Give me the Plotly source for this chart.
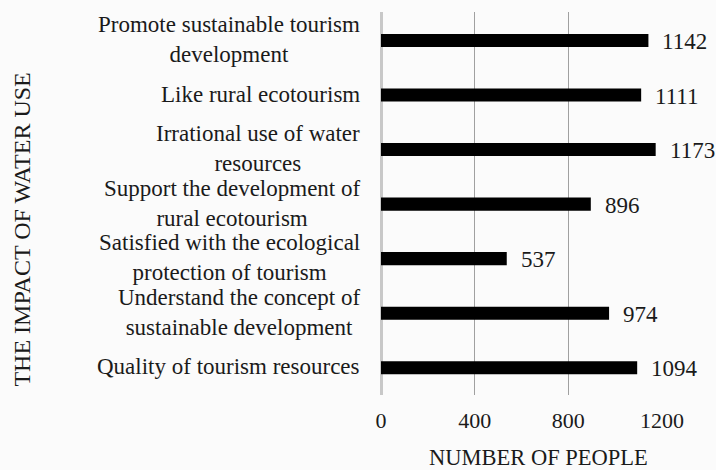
import plotly.graph_objects as go

categories = [
    "Promote sustainable tourism<br>development",
    "Like rural ecotourism",
    "Irrational use of water<br>resources",
    "Support the development of<br>rural ecotourism",
    "Satisfied with the ecological<br>protection of tourism",
    "Understand the concept of<br>sustainable development",
    "Quality of tourism resources",
]
values = [1142, 1111, 1173, 896, 537, 974, 1094]
x_ticks = [0, 400, 800, 1200]

FONT = "Liberation Serif, Times New Roman, serif"
TXT = "#1a1a1a"

fig = go.Figure()
fig.add_trace(go.Bar(
    y=categories, x=values, orientation="h",
    marker=dict(color="#000000", line=dict(width=0)),
    width=0.24,
    cliponaxis=False,
    hoverinfo="skip",
))

annotations = []
for c, v in zip(categories, values):
    annotations.append(dict(
        x=v, y=c, xref="x", yref="y", text=str(v), showarrow=False,
        xanchor="left", yanchor="middle", xshift=12, yshift=-1,
        font=dict(family=FONT, size=23, color=TXT),
    ))
    annotations.append(dict(
        x=0, y=c, xref="paper", yref="y", text=c, showarrow=False,
        xanchor="right", yanchor="middle", align="center", xshift=-19, yshift=1,
        font=dict(family=FONT, size=23, color=TXT),
    ))

# axis titles
annotations.append(dict(
    x=0, y=0.432, xref="paper", yref="paper", xshift=-359,
    text="THE IMPACT OF WATER USE", textangle=-90, showarrow=False,
    xanchor="center", yanchor="middle",
    font=dict(family=FONT, size=24, color=TXT),
))
annotations.append(dict(
    x=0.562, y=0, xref="paper", yref="paper", yshift=-62,
    text="NUMBER OF PEOPLE", showarrow=False, borderpad=0,
    xanchor="center", yanchor="middle",
    font=dict(family=FONT, size=22.5, color=TXT),
))

fig.update_layout(
    width=716, height=470,
    margin=dict(l=381, r=54, t=12, b=75),
    paper_bgcolor="#fbfbfb", plot_bgcolor="#fbfbfb",
    showlegend=False,
    annotations=annotations,
    xaxis=dict(
        range=[0, 1200], tickvals=x_ticks, ticktext=[str(t) for t in x_ticks],
        showgrid=True, gridcolor="#a0a0a0", gridwidth=1,
        zeroline=True, zerolinecolor="#c8c8c8", zerolinewidth=3,
        showline=False, ticks="", ticklabelstandoff=10,
        tickfont=dict(family=FONT, size=22, color=TXT),
    ),
    yaxis=dict(
        autorange="reversed", showticklabels=False, showgrid=False, ticks="",
        showline=False,
    ),
)

fig.write_html(
    "out.html",
    config={"displayModeBar": False},
    post_script="document.body.style.margin='0';document.body.style.overflow='hidden';",
)
